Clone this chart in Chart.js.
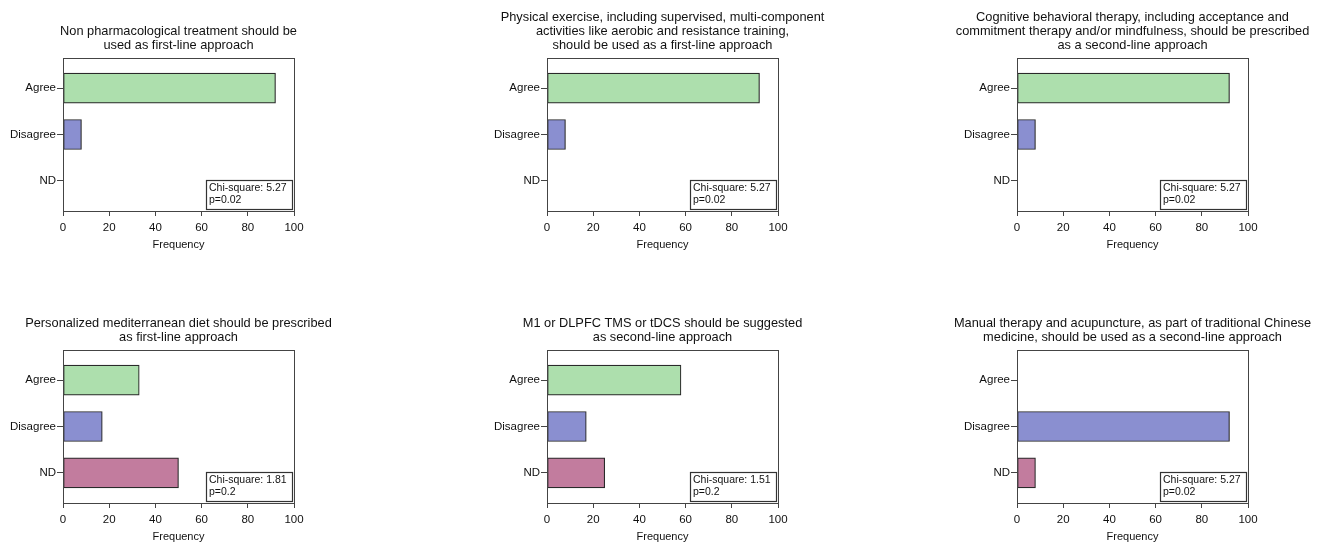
<!DOCTYPE html>
<html>
<head>
<meta charset="utf-8">
<script src="https://cdn.jsdelivr.net/npm/chart.js@4.4.0/dist/chart.umd.min.js"></script>
<style>
  html, body { margin: 0; padding: 0; background: #fff; }
  body { width: 1322px; height: 543px; position: relative; overflow: hidden; }
  .panel { position: absolute; }
</style>
</head>
<body>
<script>
// Categorias y frecuencias de cada afirmacion
const categorias = ["Agree", "Disagree", "ND"];
const ticksFrecuencia = [0, 20, 40, 60, 80, 100];

const titulos = [
  ["Non pharmacological treatment should be", "used as first-line approach"],
  ["Physical exercise, including supervised, multi-component", "activities like aerobic and resistance training,", "should be used as a first-line approach"],
  ["Cognitive behavioral therapy, including acceptance and", "commitment therapy and/or mindfulness, should be prescribed", "as a second-line approach"],
  ["Personalized mediterranean diet should be prescribed", "as first-line approach"],
  ["M1 or DLPFC TMS or tDCS should be suggested", "as second-line approach"],
  ["Manual therapy and acupuncture, as part of traditional Chinese", "medicine, should be used as a second-line approach"],
];

const frecuencias = [
  [92, 8, 0],
  [92, 8, 0],
  [92, 8, 0],
  [33, 17, 50],
  [58, 17, 25],
  [0, 92, 8],
];

const chiCuadrado = ["5.27", "5.27", "5.27", "1.81", "1.51", "5.27"];
const valoresP = ["0.02", "0.02", "0.02", "0.2", "0.2", "0.02"];

const colores = ["#addfad", "#8a8fd0", "#c27c9e"];
const fuente = "Arial, 'Liberation Sans', sans-serif";

// Posicion de cada lienzo: borde izquierdo del lienzo, borde izquierdo del area de barras, top
const paneles = [
  { canvasLeft: 0, plotLeft: 63, top: 0 },
  { canvasLeft: 400, plotLeft: 547, top: 0 },
  { canvasLeft: 870, plotLeft: 1017, top: 0 },
  { canvasLeft: 0, plotLeft: 63, top: 292 },
  { canvasLeft: 400, plotLeft: 547, top: 292 },
  { canvasLeft: 870, plotLeft: 1017, top: 292 },
];
const anchoEjeY = 63;
const anchoPlot = 231;
const margenDerecho = 75;
const altoEjeX = 42;
const altoCanvas = 211 + altoEjeX;

// Titulo centrado sobre el area del grafico, marco y recuadro de chi-cuadrado
const decoraciones = {
  id: "decoraciones",
  afterDraw(chart, args, opts) {
    const ctx = chart.ctx;
    const a = chart.chartArea;
    ctx.save();
    // marco
    ctx.strokeStyle = "#444";
    ctx.lineWidth = 1;
    ctx.strokeRect(Math.round(a.left) + 0.5, Math.round(a.top) + 0.5, Math.round(a.right - a.left), Math.round(a.bottom - a.top));
    // titulo
    ctx.fillStyle = "#111";
    ctx.font = "12.8px " + fuente;
    ctx.textAlign = "center";
    ctx.textBaseline = "middle";
    const cx = (a.left + a.right) / 2;
    const n = opts.titulo.length;
    opts.titulo.forEach((linea, i) => {
      ctx.fillText(linea, cx, a.top - 12.5 - (n - 1 - i) * 14);
    });
    // recuadro chi-cuadrado
    ctx.font = "10.5px " + fuente;
    const l1 = "Chi-square: " + opts.chi;
    const l2 = "p=" + opts.p;
    const w = Math.ceil(Math.max(ctx.measureText(l1).width, ctx.measureText(l2).width)) + 8;
    const h = 29;
    const x = Math.round(a.right) - 2 - w;
    const y = Math.round(a.bottom) - 2 - h;
    ctx.fillStyle = "#fff";
    ctx.fillRect(x, y, w, h);
    ctx.strokeStyle = "#333";
    ctx.lineWidth = 1.2;
    ctx.strokeRect(x + 0.5, y + 0.5, w, h);
    ctx.fillStyle = "#111";
    ctx.textAlign = "left";
    ctx.fillText(l1, x + 3, y + 8.5);
    ctx.fillText(l2, x + 3, y + 20.5);
    ctx.restore();
  },
};

paneles.forEach((pos, i) => {
  const canvas = document.createElement("canvas");
  canvas.className = "panel";
  const margenIzq = pos.plotLeft - pos.canvasLeft - anchoEjeY;
  const ancho = pos.plotLeft - pos.canvasLeft + anchoPlot + margenDerecho;
  canvas.style.left = pos.canvasLeft + "px";
  canvas.style.top = pos.top + "px";
  canvas.style.width = ancho + "px";
  canvas.style.height = altoCanvas + "px";
  canvas.width = ancho;
  canvas.height = altoCanvas;
  document.body.appendChild(canvas);

  new Chart(canvas.getContext("2d"), {
    type: "bar",
    data: {
      datasets: [
        {
          data: frecuencias[i].map((v, j) => ({ x: v, y: j })),
          backgroundColor: colores,
          borderColor: "#2a2a2a",
          borderWidth: 1.2,
          borderSkipped: false,
          barThickness: 30,
        },
      ],
    },
    options: {
      indexAxis: "y",
      responsive: false,
      animation: false,
      layout: { padding: { top: 58, right: margenDerecho, left: margenIzq, bottom: 0 } },
      plugins: {
        legend: { display: false },
        tooltip: { enabled: false },
        decoraciones: { titulo: titulos[i], chi: chiCuadrado[i], p: valoresP[i] },
      },
      scales: {
        x: {
          type: "linear",
          min: 0,
          max: 100,
          afterBuildTicks: (s) => { s.ticks = ticksFrecuencia.map((v) => ({ value: v })); },
          afterFit: (s) => { s.height = altoEjeX; },
          grid: { drawOnChartArea: false, drawTicks: true, tickLength: 5, color: "#444" },
          border: { display: true, color: "#444" },
          ticks: { color: "#111", font: { family: fuente, size: 11.5 }, padding: 5, maxRotation: 0 },
          title: { display: true, text: "Frequency", color: "#111", font: { family: fuente, size: 11 }, padding: { top: 0, bottom: 1 } },
        },
        y: {
          type: "linear",
          reverse: true,
          offset: false,
          min: -0.65,
          max: 2.65,
          afterBuildTicks: (s) => { s.ticks = categorias.map((_, j) => ({ value: j })); },
          afterFit: (s) => { s.width = anchoEjeY; },
          grid: { offset: false, drawOnChartArea: false, drawTicks: true, tickLength: 6, color: "#444" },
          border: { display: true, color: "#444" },
          ticks: {
            color: "#111",
            font: { family: fuente, size: 11.5 },
            padding: 1,
            callback: (v) => categorias[v],
          },
        },
      },
    },
    plugins: [decoraciones],
  });
});
</script>
</body>
</html>
